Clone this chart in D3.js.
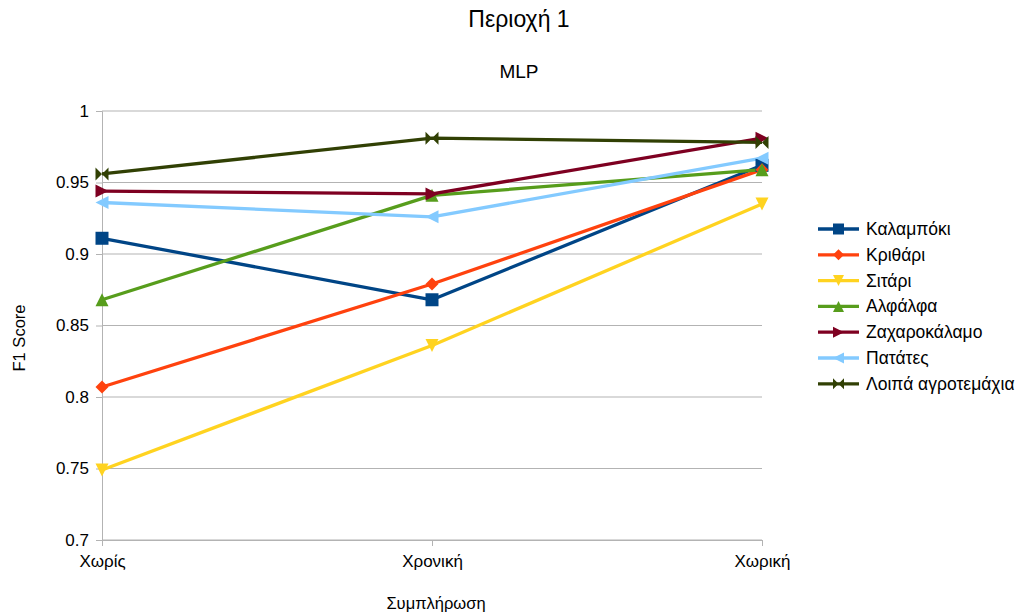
<!DOCTYPE html>
<html>
<head>
<meta charset="utf-8">
<script src="https://cdn.jsdelivr.net/npm/d3@7"></script>
<style>
  html, body { margin: 0; padding: 0; background: #fff; }
  svg text { font-family: "Liberation Sans", Arial, sans-serif; fill: #000; }
</style>
</head>
<body>
<svg id="chart" width="1025" height="616"></svg>
<script>
// Categories (imputation method) and F1 scores per crop class
const categories = ["Χωρίς", "Χρονική", "Χωρική"];
const seriesNames = ["Καλαμπόκι", "Κριθάρι", "Σιτάρι", "Αλφάλφα", "Ζαχαροκάλαμο", "Πατάτες", "Λοιπά αγροτεμάχια"];
const kalampoki = [0.911, 0.868, 0.962];
const krithari = [0.807, 0.879, 0.959];
const sitari = [0.749, 0.836, 0.935];
const alfalfa = [0.868, 0.941, 0.959];
const zaxarokalamo = [0.944, 0.942, 0.981];
const patates = [0.936, 0.926, 0.967];
const loipa = [0.956, 0.981, 0.978];
const yTicks = [0.7, 0.75, 0.8, 0.85, 0.9, 0.95, 1];

const colors = ["#004586", "#ff420e", "#ffd320", "#579d1c", "#7e0021", "#83caff", "#314004"];
const markers = ["square", "diamond", "triDown", "triUp", "triRight", "triLeft", "bowtie"];
const values = [kalampoki, krithari, sitari, alfalfa, zaxarokalamo, patates, loipa];

const series = seriesNames.map((name, i) => ({ name, color: colors[i], marker: markers[i], values: values[i] }));

const svg = d3.select("#chart");
const plot = { left: 102, right: 762, top: 111, bottom: 540 };

const x = d3.scalePoint().domain(categories).range([plot.left, plot.right]);
const y = d3.scaleLinear().domain([0.7, 1]).range([plot.bottom, plot.top]);

// Titles
svg.append("text").attr("x", 519).attr("y", 27).attr("text-anchor", "middle")
  .style("font-size", "23px").text("Περιοχή 1");
svg.append("text").attr("x", 519).attr("y", 78).attr("text-anchor", "middle")
  .style("font-size", "19px").text("MLP");

// Horizontal gridlines
svg.append("g").selectAll("line").data(yTicks).join("line")
  .attr("x1", plot.left).attr("x2", plot.right)
  .attr("y1", d => y(d)).attr("y2", d => y(d))
  .attr("stroke", "#b3b3b3").attr("stroke-width", 1);

// Y axis
const yAxis = svg.append("g").attr("transform", `translate(${plot.left},0)`)
  .call(d3.axisLeft(y).tickValues(yTicks).tickSize(6).tickPadding(7)
    .tickFormat(d => d3.format("")(+d.toFixed(2))));
yAxis.select(".domain").attr("stroke", "#b3b3b3");
yAxis.selectAll(".tick line").attr("stroke", "#b3b3b3");
yAxis.selectAll(".tick text").style("font-size", "17px").style("font-family", "Liberation Sans, Arial, sans-serif").attr("fill", "#000");

// X axis
const xAxis = svg.append("g").attr("transform", `translate(0,${plot.bottom})`)
  .call(d3.axisBottom(x).tickSize(6).tickPadding(9));
xAxis.select(".domain").attr("stroke", "#b3b3b3");
xAxis.selectAll(".tick line").attr("stroke", "#b3b3b3");
xAxis.selectAll(".tick text").style("font-size", "17px").style("font-family", "Liberation Sans, Arial, sans-serif").attr("fill", "#000");

// Axis titles
svg.append("text").attr("x", 436).attr("y", 609).attr("text-anchor", "middle")
  .style("font-size", "16.5px").text("Συμπλήρωση");
svg.append("text").attr("transform", "translate(25,338) rotate(-90)").attr("text-anchor", "middle")
  .style("font-size", "16.5px").text("F1 Score");

// Marker shapes
function markerPath(type, s) {
  const h = s / 2;
  switch (type) {
    case "square": return `M${-h},${-h}H${h}V${h}H${-h}Z`;
    case "diamond": return `M0,${-h}L${h},0L0,${h}L${-h},0Z`;
    case "triDown": return `M${-h},${-h}L${h},${-h}L0,${h}Z`;
    case "triUp": return `M0,${-h}L${h},${h}L${-h},${h}Z`;
    case "triRight": return `M${-h},${-h}L${h},0L${-h},${h}Z`;
    case "triLeft": return `M${h},${-h}L${-h},0L${h},${h}Z`;
    case "bowtie": return `M${-h},${-h}L${h},${h}L${h},${-h}L${-h},${h}Z`;
  }
}

const line = d3.line().x((d, i) => x(categories[i])).y(d => y(d));

const g = svg.append("g");
series.forEach(s => {
  g.append("path").datum(s.values).attr("d", line)
    .attr("fill", "none").attr("stroke", s.color).attr("stroke-width", 3.3)
    .attr("stroke-linejoin", "round");
});
series.forEach(s => {
  g.selectAll(null).data(s.values).join("path")
    .attr("transform", (d, i) => `translate(${x(categories[i])},${y(d)})`)
    .attr("d", markerPath(s.marker, 13))
    .attr("fill", s.color);
});

// Legend
const legend = svg.append("g").attr("transform", "translate(818,229)");
series.forEach((s, i) => {
  const row = legend.append("g").attr("transform", `translate(0,${i * 25.8})`);
  row.append("line").attr("x1", 0).attr("x2", 41).attr("y1", 0).attr("y2", 0)
    .attr("stroke", s.color).attr("stroke-width", 3.3);
  row.append("path").attr("transform", "translate(20.5,0)")
    .attr("d", markerPath(s.marker, 11)).attr("fill", s.color);
  row.append("text").attr("x", 48).attr("y", 6).style("font-size", "17.5px").text(s.name);
});
</script>
</body>
</html>
